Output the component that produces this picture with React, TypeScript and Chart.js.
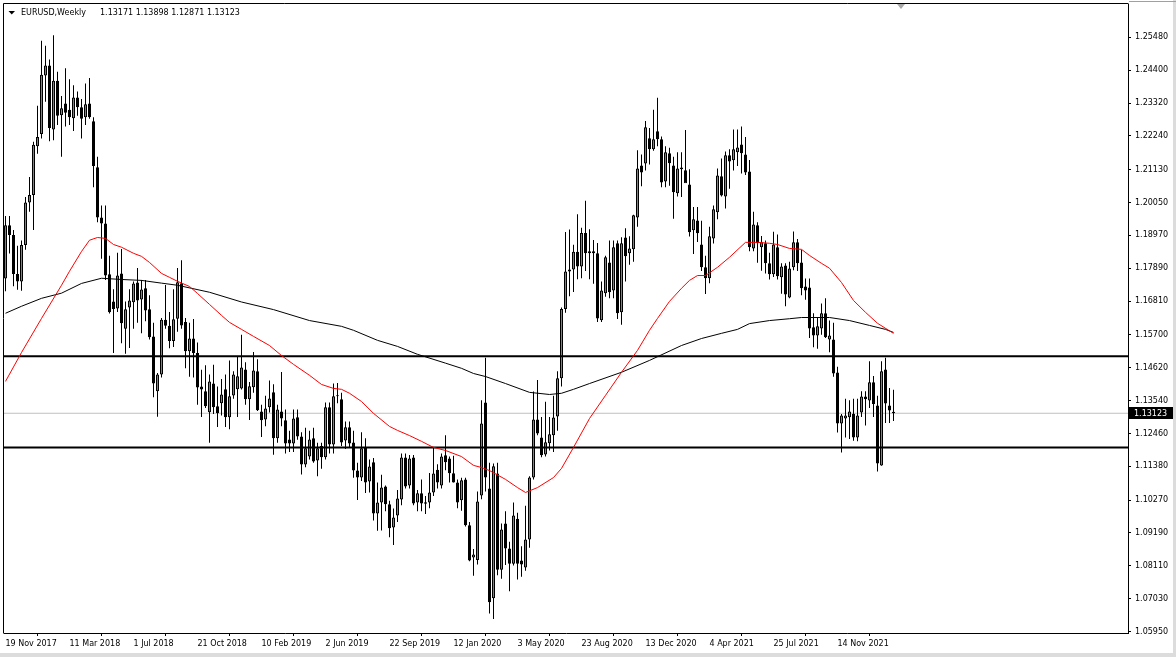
import React, { useEffect, useRef } from 'react';
import { Chart, registerables } from 'chart.js';

Chart.register(...registerables);

// ---- data (weekly EURUSD candles, first bar = week of 19 Nov 2017) ----
const openP = [
  1.1755, 1.1930, 1.1898, 1.1770, 1.1745, 1.1865, 1.2005, 1.2030, 1.2190, 1.2230,
  1.2422, 1.2455, 1.2245, 1.2405, 1.2292, 1.2330, 1.2310, 1.2282, 1.2350, 1.2318,
  1.2285, 1.2330, 1.2272, 1.2121, 1.1956, 1.1936, 1.1769, 1.1680, 1.1657, 1.1772,
  1.1590, 1.1660, 1.1677, 1.1742, 1.1686, 1.1723, 1.1654, 1.1565, 1.1385, 1.1440,
  1.1620, 1.1600, 1.1550, 1.1623, 1.1740, 1.1612, 1.1516, 1.1558, 1.1510, 1.1400,
  1.1385, 1.1316, 1.1410, 1.1335, 1.1345, 1.1391, 1.1299, 1.1371, 1.1391, 1.1394,
  1.1456, 1.1358, 1.1398, 1.1450, 1.1318, 1.1292, 1.1332, 1.1381, 1.1230, 1.1318,
  1.1289, 1.1226, 1.1213, 1.1299, 1.1236, 1.1144, 1.1170, 1.1230, 1.1157, 1.1205,
  1.1168, 1.1332, 1.1210, 1.1368, 1.1358, 1.1223, 1.1266, 1.1216, 1.1124, 1.1101,
  1.1200, 1.1088, 1.1151, 1.0983, 1.1019, 1.1072, 1.1013, 1.0937, 1.0976, 1.1029,
  1.1167, 1.1075, 1.1167, 1.1019, 1.1049, 1.1020, 1.1019, 1.1052, 1.1127, 1.1075,
  1.1174, 1.1164, 1.1115, 1.1085, 1.1026, 1.1095, 1.0944, 1.0838, 1.0830, 1.1042,
  1.1348, 1.1065, 1.0704, 1.1114, 1.0798, 1.0950, 1.0868, 1.0818, 1.0966, 1.0828,
  1.0805, 1.0897, 1.1101, 1.1292, 1.1233, 1.1177, 1.1214, 1.1240, 1.1302, 1.1427,
  1.1655, 1.1778, 1.1785, 1.1843, 1.1795, 1.1905, 1.1838, 1.1845, 1.1838, 1.1618,
  1.1707, 1.1808, 1.1716, 1.1871, 1.1644, 1.1890, 1.1838, 1.1851, 1.1956, 1.2127,
  1.2133, 1.2216, 1.2180, 1.2239, 1.2213, 1.2074, 1.2167, 1.2127, 1.2035, 1.2120,
  1.2111, 1.2064, 1.1914, 1.1946, 1.1867, 1.1792, 1.1756, 1.1887, 1.1973, 1.2091,
  1.2025, 1.2160, 1.2144, 1.2170, 1.2196, 1.2163, 1.2107, 1.1854, 1.1930, 1.1858,
  1.1871, 1.1805, 1.1769, 1.1858, 1.1759, 1.1798, 1.1693, 1.1792, 1.1874, 1.1808,
  1.1729, 1.1726, 1.1595, 1.1568, 1.1591, 1.1641, 1.1555, 1.1555, 1.1446, 1.1279,
  1.1295, 1.1299, 1.1311, 1.1233, 1.1315, 1.1367, 1.1354, 1.1414, 1.1338, 1.1141,
  1.1456, 1.1338, 1.13171,
];
const highP = [
  1.1961, 1.1961, 1.1915, 1.1863, 1.1880, 1.2023, 1.2089, 1.2205, 1.2323, 1.2537,
  1.2520, 1.2475, 1.2555, 1.2435, 1.2355, 1.2446, 1.2410, 1.2390, 1.2370, 1.2345,
  1.2396, 1.2414, 1.2285, 1.2155, 1.1995, 1.1995, 1.1830, 1.1720, 1.1840, 1.1852,
  1.1680, 1.1720, 1.1745, 1.1790, 1.1750, 1.1750, 1.1700, 1.1610, 1.1445, 1.1625,
  1.1734, 1.1645, 1.1720, 1.1790, 1.1815, 1.1625, 1.1610, 1.1622, 1.1545, 1.1455,
  1.1470, 1.1440, 1.1472, 1.1400, 1.1425, 1.1440, 1.1486, 1.1450, 1.1497, 1.1570,
  1.1480, 1.1415, 1.1514, 1.1490, 1.1340, 1.1370, 1.1420, 1.1408, 1.1340, 1.1448,
  1.1325, 1.1255, 1.1325, 1.1325, 1.1250, 1.1265, 1.1255, 1.1265, 1.1215, 1.1215,
  1.1348, 1.1348, 1.1410, 1.1412, 1.1380, 1.1285, 1.1285, 1.1255, 1.1150, 1.1250,
  1.1230, 1.1160, 1.1165, 1.1085, 1.1110, 1.1075, 1.1025, 1.0999, 1.1060, 1.1180,
  1.1180, 1.1175, 1.1175, 1.1060, 1.1095, 1.1040, 1.1116, 1.1200, 1.1145, 1.1180,
  1.1240, 1.1170, 1.1173, 1.1095, 1.1100, 1.1100, 1.0955, 1.0866, 1.1055, 1.1355,
  1.1495, 1.1150, 1.1147, 1.1150, 1.0950, 1.0990, 1.0890, 1.1019, 1.0985, 1.0875,
  1.1008, 1.1105, 1.1384, 1.1422, 1.1300, 1.1350, 1.1300, 1.1370, 1.1450, 1.1660,
  1.1908, 1.1916, 1.1866, 1.1966, 1.1922, 1.2011, 1.1917, 1.1882, 1.1872, 1.1745,
  1.1830, 1.1880, 1.1880, 1.1880, 1.1891, 1.1920, 1.1894, 1.1965, 1.2177, 1.2163,
  1.2273, 1.2250, 1.2310, 1.2349, 1.2222, 1.2190, 1.2185, 1.2155, 1.2170, 1.2170,
  1.2243, 1.2114, 1.1990, 1.1990, 1.1945, 1.1830, 1.1925, 1.1995, 1.2117, 1.2150,
  1.2173, 1.2180, 1.2245, 1.2245, 1.2255, 1.2220, 1.2145, 1.1975, 1.1940, 1.1895,
  1.1880, 1.1840, 1.1909, 1.1900, 1.1805, 1.1805, 1.1810, 1.1910, 1.1885, 1.1850,
  1.1755, 1.1755, 1.1641, 1.1625, 1.1673, 1.1690, 1.1617, 1.1610, 1.1465, 1.1310,
  1.1360, 1.1355, 1.1360, 1.1360, 1.1385, 1.1385, 1.1483, 1.1435, 1.1370, 1.1483,
  1.1495, 1.1395, 1.13898,
];
const lowP = [
  1.1713, 1.1837, 1.1730, 1.1718, 1.1715, 1.1850, 1.1975, 1.1915, 1.2165, 1.2215,
  1.2336, 1.2206, 1.2210, 1.2260, 1.2155, 1.2255, 1.2260, 1.2240, 1.2290, 1.2215,
  1.2260, 1.2280, 1.2055, 1.1940, 1.1820, 1.1750, 1.1640, 1.1510, 1.1645, 1.1542,
  1.1508, 1.1527, 1.1590, 1.1610, 1.1575, 1.1615, 1.1555, 1.1365, 1.1301, 1.1430,
  1.1590, 1.1526, 1.1530, 1.1580, 1.1590, 1.1460, 1.1432, 1.1430, 1.1340, 1.1300,
  1.1330, 1.1215, 1.1310, 1.1267, 1.1305, 1.1267, 1.1260, 1.1360, 1.1300, 1.1390,
  1.1340, 1.1290, 1.1380, 1.1320, 1.1234, 1.1270, 1.1315, 1.1176, 1.1215, 1.1270,
  1.1180, 1.1185, 1.1185, 1.1225, 1.1111, 1.1135, 1.1160, 1.1150, 1.1105, 1.1130,
  1.1160, 1.1180, 1.1180, 1.1345, 1.1205, 1.1195, 1.1200, 1.1100, 1.1027, 1.1090,
  1.1050, 1.1052, 1.0960, 1.0926, 1.0927, 1.0990, 1.0905, 1.0879, 1.0955, 1.1010,
  1.1065, 1.1065, 1.1010, 1.0990, 1.0990, 1.0981, 1.1000, 1.1040, 1.1065, 1.1065,
  1.1125, 1.1085, 1.1085, 1.1000, 1.0992, 1.0940, 1.0826, 1.0778, 1.0815, 1.1030,
  1.1055, 1.0654, 1.0636, 1.0780, 1.0768, 1.0814, 1.0727, 1.0812, 1.0766, 1.0775,
  1.0795, 1.0870, 1.1095, 1.1240, 1.1168, 1.1170, 1.1190, 1.1185, 1.1255, 1.1400,
  1.1643, 1.1697, 1.1711, 1.1753, 1.1756, 1.1780, 1.1753, 1.1738, 1.1612, 1.1612,
  1.1695, 1.1690, 1.1690, 1.1622, 1.1603, 1.1745, 1.1800, 1.1810, 1.1925, 1.2058,
  1.2110, 1.2130, 1.2175, 1.2190, 1.2055, 1.2055, 1.2060, 1.1952, 1.2025, 1.2023,
  1.2080, 1.1893, 1.1836, 1.1875, 1.1780, 1.1704, 1.1740, 1.1870, 1.1950, 1.2025,
  1.1985, 1.2050, 1.2110, 1.2125, 1.2100, 1.2095, 1.1845, 1.1845, 1.1807, 1.1781,
  1.1772, 1.1752, 1.1760, 1.1752, 1.1705, 1.1664, 1.1690, 1.1782, 1.1780, 1.1700,
  1.1685, 1.1560, 1.1529, 1.1524, 1.1570, 1.1560, 1.1513, 1.1432, 1.1249, 1.1183,
  1.1233, 1.1228, 1.1222, 1.1220, 1.1300, 1.1272, 1.1330, 1.1300, 1.1121, 1.1140,
  1.1280, 1.1280, 1.12871,
];
const closeP = [
  1.1930, 1.1898, 1.1770, 1.1745, 1.1865, 1.2005, 1.2030, 1.2195, 1.2220, 1.2425,
  1.2455, 1.2250, 1.2405, 1.2290, 1.2315, 1.2300, 1.2285, 1.2350, 1.2318, 1.2280,
  1.2328, 1.2285, 1.2125, 1.1956, 1.1936, 1.1765, 1.1644, 1.1655, 1.1765, 1.1608,
  1.1654, 1.1683, 1.1739, 1.1683, 1.1719, 1.1650, 1.1562, 1.1410, 1.1440, 1.1620,
  1.1600, 1.1550, 1.1621, 1.1743, 1.1601, 1.1516, 1.1558, 1.1510, 1.1397, 1.1390,
  1.1335, 1.1417, 1.1332, 1.1312, 1.1374, 1.1299, 1.1368, 1.1440, 1.1434, 1.1463,
  1.1358, 1.1401, 1.1453, 1.1322, 1.1289, 1.1328, 1.1361, 1.1230, 1.1325, 1.1295,
  1.1213, 1.1213, 1.1295, 1.1236, 1.1144, 1.1197, 1.1226, 1.1154, 1.1197, 1.1168,
  1.1332, 1.1210, 1.1368, 1.1370, 1.1216, 1.1266, 1.1213, 1.1124, 1.1101, 1.1197,
  1.1085, 1.1137, 1.0983, 1.1019, 1.1068, 1.1013, 1.0934, 1.0970, 1.1032, 1.1167,
  1.1072, 1.1164, 1.1016, 1.1049, 1.1016, 1.1015, 1.1052, 1.1114, 1.1085, 1.1170,
  1.1151, 1.1115, 1.1085, 1.1019, 1.1092, 1.0944, 1.0828, 1.0848, 1.1022, 1.1279,
  1.1101, 1.0691, 1.1138, 1.0798, 1.0930, 1.0868, 1.0818, 1.0976, 1.0818, 1.0815,
  1.0897, 1.1101, 1.1292, 1.1246, 1.1174, 1.1217, 1.1243, 1.1298, 1.1427, 1.1655,
  1.1778, 1.1785, 1.1843, 1.1795, 1.1905, 1.1838, 1.1845, 1.1838, 1.1624, 1.1716,
  1.1825, 1.1710, 1.1858, 1.1641, 1.1871, 1.1828, 1.1854, 1.1963, 1.2117, 1.2104,
  1.2252, 1.2180, 1.2213, 1.2213, 1.2071, 1.2170, 1.2134, 1.2039, 1.2117, 1.2114,
  1.2068, 1.1907, 1.1950, 1.1904, 1.1792, 1.1756, 1.1894, 1.1983, 1.2094, 1.2028,
  1.2160, 1.2140, 1.2180, 1.2186, 1.2167, 1.2104, 1.1858, 1.1933, 1.1871, 1.1874,
  1.1805, 1.1769, 1.1867, 1.1763, 1.1795, 1.1703, 1.1788, 1.1874, 1.1805, 1.1723,
  1.1716, 1.1591, 1.1568, 1.1598, 1.1641, 1.1562, 1.1568, 1.1443, 1.1279, 1.1305,
  1.1305, 1.1318, 1.1233, 1.1305, 1.1367, 1.1358, 1.1414, 1.1343, 1.1147, 1.1450,
  1.1344, 1.1321, 1.13123,
];

// moving averages (bar index -> value)
const maRedBars = [
  0, 4, 9, 14, 16, 19, 21, 23, 25, 27, 29, 32, 34, 36, 39, 41, 43, 46, 48, 51,
  54, 56, 59, 62, 66, 69, 72, 76, 79, 82, 84, 86, 89, 92, 96, 98, 101, 104, 107, 110,
  114, 117, 119, 121, 125, 128, 130, 133, 137, 139, 142, 146, 150, 154, 158, 161, 163, 166, 169, 171,
  173, 175, 178, 181, 185, 188, 191, 193, 196, 199, 201, 204, 206, 209, 212, 215, 218, 222,
];
const maRedValues = [
  1.1417, 1.1512, 1.1624, 1.1733, 1.1779, 1.1844, 1.1881, 1.1890, 1.1887, 1.1867,
  1.1858, 1.1838, 1.1828, 1.1808, 1.1772, 1.1759, 1.1746, 1.1729, 1.1706, 1.1670,
  1.1634, 1.1611, 1.1588, 1.1565, 1.1535, 1.1502, 1.1473, 1.1437, 1.1407, 1.1394,
  1.1391, 1.1378, 1.1351, 1.1312, 1.1269, 1.1256, 1.1239, 1.1220, 1.1200, 1.1190,
  1.1170, 1.1141, 1.1134, 1.1124, 1.1095, 1.1068, 1.1052, 1.1068, 1.1101, 1.1131,
  1.1200, 1.1295, 1.1371, 1.1447, 1.1519, 1.1585, 1.1624, 1.1680, 1.1723, 1.1749,
  1.1765, 1.1765, 1.1792, 1.1825, 1.1874, 1.1874, 1.1871, 1.1867, 1.1854, 1.1851,
  1.1831, 1.1805, 1.1789, 1.1742, 1.1683, 1.1644, 1.1608, 1.1575,
];
const maBlackBars = [
  0, 4, 9, 14, 19, 24, 29, 34, 39, 43, 51, 59, 67, 76, 84, 87, 93, 98, 103, 110,
  114, 117, 120, 125, 131, 136, 139, 142, 146, 154, 161, 169, 174, 179, 183, 186, 191, 196, 199, 206,
  211, 216, 220, 222,
];
const maBlackValues = [
  1.1641, 1.1664, 1.1690, 1.1707, 1.1739, 1.1756, 1.1752, 1.1749, 1.1740, 1.1733,
  1.1710, 1.1678, 1.1653, 1.1617, 1.1598, 1.1585, 1.1552, 1.1532, 1.1506, 1.1477,
  1.1460, 1.1443, 1.1433, 1.1410, 1.1381, 1.1374, 1.1378, 1.1391, 1.1410, 1.1447,
  1.1486, 1.1535, 1.1558, 1.1575, 1.1588, 1.1607, 1.1617, 1.1623, 1.1627, 1.1627,
  1.1617, 1.1601, 1.1588, 1.1578,
];

const levelLines = [1.15, 1.12];

const xTickBars = [0, 16, 32, 48, 64, 80, 96, 112, 128, 144, 160, 176, 192, 208];
const xTickLabels = [
  '19 Nov 2017', '11 Mar 2018', '1 Jul 2018', '21 Oct 2018', '10 Feb 2019', '2 Jun 2019',
  '22 Sep 2019', '12 Jan 2020', '3 May 2020', '23 Aug 2020', '13 Dec 2020', '4 Apr 2021',
  '25 Jul 2021', '14 Nov 2021',
];
const yTickLabels = [
  '1.25480', '1.24400', '1.23320', '1.22240', '1.21130', '1.20050', '1.18970', '1.17890',
  '1.16810', '1.15700', '1.14620', '1.13540', '1.12460', '1.11380', '1.10270', '1.09190',
  '1.08110', '1.07030', '1.05950',
];

const TITLE = 'EURUSD,Weekly';
const FONT_FAMILY = '"DejaVu Sans", Verdana, sans-serif';
const UP_COLOR = '#1ec81e';
const X_MIN = -0.375;
const X_MAX = 280.625;
const Y_MIN = 1.05901;
const Y_MAX = 1.26574;

const framePlugin = {
  id: 'mt4frame',
  beforeDraw(chart: any) {
    const ctx = chart.ctx;
    ctx.save();
    ctx.fillStyle = '#ffffff';
    ctx.fillRect(0, 0, chart.width, chart.height);
    ctx.restore();
  },
  afterDraw(chart: any) {
    const ctx = chart.ctx;
    const area = chart.chartArea;
    const y = chart.scales.y;
    const last = closeP.length - 1;
    ctx.save();
    // chart frame (left + top)
    ctx.strokeStyle = '#000000';
    ctx.lineWidth = 1;
    ctx.beginPath();
    ctx.moveTo(area.left - 0.5, area.bottom + 0.5);
    ctx.lineTo(area.left - 0.5, area.top - 0.5);
    ctx.lineTo(area.right + 0.5, area.top - 0.5);
    ctx.stroke();
    // window edges
    ctx.fillStyle = '#dcdcdc';
    ctx.fillRect(chart.width - 3, 0, 3, chart.height);
    ctx.fillRect(0, chart.height - 4, chart.width, 4);
    ctx.strokeStyle = '#a0a0a0';
    ctx.beginPath();
    ctx.moveTo(area.right + 1, 1.5);
    ctx.lineTo(chart.width, 1.5);
    ctx.stroke();
    // header
    ctx.fillStyle = '#000000';
    ctx.beginPath();
    ctx.moveTo(8.5, 11);
    ctx.lineTo(15, 11);
    ctx.lineTo(11.75, 14.5);
    ctx.closePath();
    ctx.fill();
    ctx.font = '8px ' + FONT_FAMILY;
    ctx.textBaseline = 'middle';
    ctx.textAlign = 'left';
    ctx.fillText(TITLE, 21, 13);
    const ohlc = [openP[last], highP[last], lowP[last], closeP[last]].map((v) => v.toFixed(5)).join(' ');
    ctx.fillText(ohlc, 100, 13);
    // chart shift marker
    ctx.fillStyle = '#a8a8a8';
    ctx.beginPath();
    ctx.moveTo(897, area.top);
    ctx.lineTo(905, area.top);
    ctx.lineTo(901, area.top + 5);
    ctx.closePath();
    ctx.fill();
    // current price label
    const py = Math.round(y.getPixelForValue(closeP[last]));
    ctx.fillStyle = '#000000';
    ctx.fillRect(area.right + 1, py - 6, 44, 12);
    ctx.fillStyle = '#ffffff';
    ctx.fillText(closeP[last].toFixed(5), area.right + 6, py + 0.5);
    ctx.restore();
  },
};

export default function App() {
  const canvasRef = useRef<HTMLCanvasElement | null>(null);

  useEffect(() => {
    const canvas = canvasRef.current;
    if (!canvas) return;
    const last = closeP.length - 1;
    const tickFont = { family: FONT_FAMILY, size: 8 };

    const wickData = openP.map((_, i) => ({ x: i, y: [lowP[i], highP[i]] }));
    const bodyData = openP.map((o, i) => ({ x: i, y: [o, closeP[i]] }));
    const bodyColors = openP.map((o, i) => (closeP[i] >= o ? UP_COLOR : '#000000'));

    const datasets: any[] = [
      {
        type: 'line',
        data: [{ x: X_MIN, y: closeP[last] }, { x: X_MAX, y: closeP[last] }],
        borderColor: '#c0c0c0',
        borderWidth: 1,
        pointRadius: 0,
        order: 10,
      },
      {
        type: 'bar',
        data: wickData,
        backgroundColor: '#000000',
        borderWidth: 0,
        barThickness: 1,
        grouped: false,
        inflateAmount: 0,
        order: 6,
      },
      {
        type: 'bar',
        data: bodyData,
        backgroundColor: bodyColors,
        borderColor: '#000000',
        borderWidth: 1,
        borderSkipped: false,
        barThickness: 3,
        minBarLength: 1,
        grouped: false,
        inflateAmount: 0,
        order: 5,
      },
      ...levelLines.map((lv) => ({
        type: 'line',
        data: [{ x: X_MIN, y: lv }, { x: X_MAX, y: lv }],
        borderColor: '#000000',
        borderWidth: 2,
        pointRadius: 0,
        order: 4,
      })),
      {
        type: 'line',
        data: maBlackBars.map((b, k) => ({ x: b, y: maBlackValues[k] })),
        borderColor: '#000000',
        borderWidth: 1,
        pointRadius: 0,
        tension: 0,
        order: 3,
      },
      {
        type: 'line',
        data: maRedBars.map((b, k) => ({ x: b, y: maRedValues[k] })),
        borderColor: '#ff0000',
        borderWidth: 1,
        pointRadius: 0,
        tension: 0,
        order: 2,
      },
    ];

    const chart = new Chart(canvas, {
      type: 'bar',
      data: { datasets },
      options: {
        animation: false,
        responsive: false,
        devicePixelRatio: 1,
        events: [],
        layout: { padding: { left: 4, top: 4, right: 0, bottom: 0 } },
        plugins: { legend: { display: false }, tooltip: { enabled: false } },
        scales: {
          x: {
            type: 'linear',
            min: X_MIN,
            max: X_MAX,
            bounds: 'data',
            offset: false,
            afterBuildTicks: (s: any) => {
              s.ticks = xTickBars.map((v) => ({ value: v }));
            },
            afterFit: (s: any) => {
              s.height = 24;
              s.paddingLeft = 0;
              s.paddingRight = 0;
            },
            ticks: {
              autoSkip: false,
              maxRotation: 0,
              minRotation: 0,
              align: 'start',
              padding: 3,
              color: '#000000',
              font: tickFont,
              callback: (_v: any, i: number) => xTickLabels[i],
            },
            grid: { drawOnChartArea: false, drawTicks: true, tickLength: 3, color: '#000000' },
            border: { display: true, color: '#000000' },
          },
          y: {
            type: 'linear',
            position: 'right',
            min: Y_MIN,
            max: Y_MAX,
            bounds: 'data',
            afterBuildTicks: (s: any) => {
              s.ticks = yTickLabels.map((l) => ({ value: parseFloat(l) }));
            },
            afterFit: (s: any) => {
              s.width = 48;
              s.paddingTop = 0;
              s.paddingBottom = 0;
            },
            ticks: {
              autoSkip: false,
              padding: 4,
              color: '#000000',
              font: tickFont,
              callback: (_v: any, i: number) => yTickLabels[i],
            },
            grid: { drawOnChartArea: false, drawTicks: true, tickLength: 3, color: '#000000' },
            border: { display: true, color: '#000000' },
          },
        },
      } as any,
      plugins: [framePlugin],
    });
    return () => chart.destroy();
  }, []);

  return (
    <div style={{ position: 'fixed', left: 0, top: 0, width: 1176, height: 657, background: '#ffffff' }}>
      <canvas ref={canvasRef} width={1176} height={657} style={{ display: 'block', width: 1176, height: 657 }} />
    </div>
  );
}
